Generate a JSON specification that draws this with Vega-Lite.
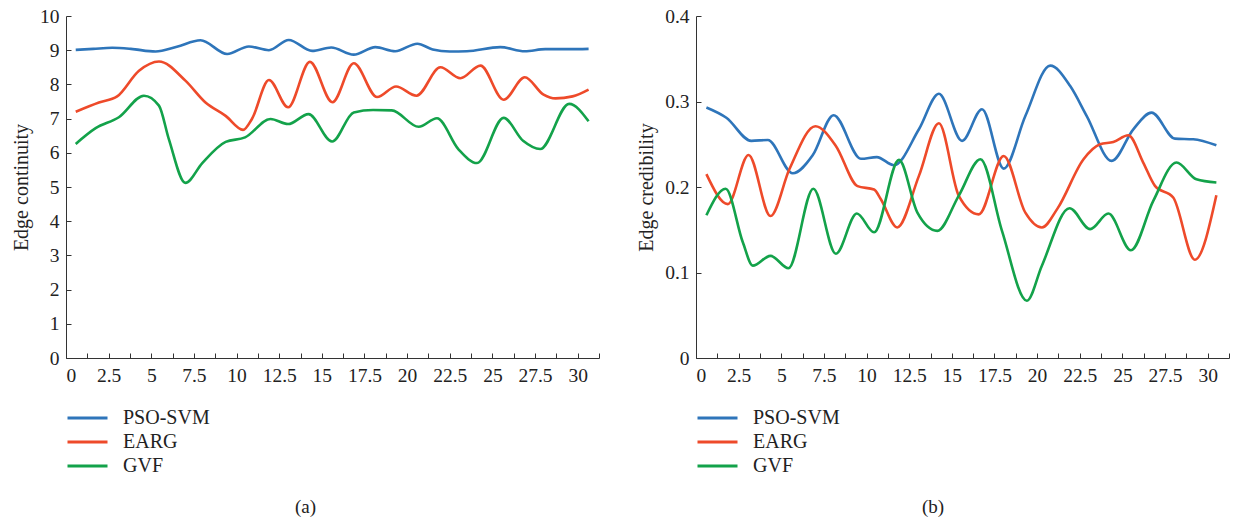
{
  "$schema": "https://vega.github.io/schema/vega-lite/v6.json",
  "padding": {"left": 11, "top": 6, "right": 5, "bottom": 5},
  "spacing": 36,
  "config": {
    "view": {"stroke": null},
    "font": "Liberation Serif",
    "axis": {
      "grid": false,
      "domainColor": "#333333",
      "tickColor": "#333333",
      "tickSize": -5,
      "labelFont": "Liberation Serif",
      "labelFontSize": 19.5,
      "labelColor": "#222222",
      "titleFont": "Liberation Serif",
      "titleFontSize": 20,
      "titleFontWeight": "normal",
      "titleColor": "#222222"
    },
    "axisX": {"labelPadding": 13},
    "axisY": {"labelPadding": 12},
    "legend": {
      "orient": "bottom",
      "direction": "vertical",
      "title": null,
      "symbolType": "stroke",
      "symbolSize": 1600,
      "symbolStrokeWidth": 3,
      "clipHeight": 22,
      "rowPadding": 2,
      "labelFont": "Liberation Serif",
      "labelFontSize": 20,
      "labelColor": "#222222",
      "labelOffset": 14,
      "offset": 22
    },
    "title": {
      "orient": "bottom",
      "anchor": "middle",
      "frame": "bounds",
      "font": "Liberation Serif",
      "fontSize": 19,
      "fontWeight": "normal",
      "color": "#222222",
      "offset": 21
    }
  },
  "resolve": {"legend": {"color": "independent"}},
  "datasets": {
    "a": [
      {"x": 0.57, "y": 9.01, "series": "PSO-SVM"},
      {"x": 1.6, "y": 9.04, "series": "PSO-SVM"},
      {"x": 2.71, "y": 9.07, "series": "PSO-SVM"},
      {"x": 3.8, "y": 9.04, "series": "PSO-SVM"},
      {"x": 5.25, "y": 8.96, "series": "PSO-SVM"},
      {"x": 6.5, "y": 9.1, "series": "PSO-SVM"},
      {"x": 7.89, "y": 9.29, "series": "PSO-SVM"},
      {"x": 9.45, "y": 8.89, "series": "PSO-SVM"},
      {"x": 10.72, "y": 9.11, "series": "PSO-SVM"},
      {"x": 11.9, "y": 9.0, "series": "PSO-SVM"},
      {"x": 13.06, "y": 9.3, "series": "PSO-SVM"},
      {"x": 14.43, "y": 8.98, "series": "PSO-SVM"},
      {"x": 15.55, "y": 9.08, "series": "PSO-SVM"},
      {"x": 16.87, "y": 8.87, "series": "PSO-SVM"},
      {"x": 18.14, "y": 9.09, "series": "PSO-SVM"},
      {"x": 19.3, "y": 8.97, "series": "PSO-SVM"},
      {"x": 20.6, "y": 9.19, "series": "PSO-SVM"},
      {"x": 21.5, "y": 9.02, "series": "PSO-SVM"},
      {"x": 22.5, "y": 8.96, "series": "PSO-SVM"},
      {"x": 23.5, "y": 8.97, "series": "PSO-SVM"},
      {"x": 25.46, "y": 9.09, "series": "PSO-SVM"},
      {"x": 26.9, "y": 8.97, "series": "PSO-SVM"},
      {"x": 28.1, "y": 9.03, "series": "PSO-SVM"},
      {"x": 29.5, "y": 9.03, "series": "PSO-SVM"},
      {"x": 30.64, "y": 9.04, "series": "PSO-SVM"},
      {"x": 0.57, "y": 7.2, "series": "EARG"},
      {"x": 1.93, "y": 7.47, "series": "EARG"},
      {"x": 3.0, "y": 7.65, "series": "EARG"},
      {"x": 4.28, "y": 8.4, "series": "EARG"},
      {"x": 5.45, "y": 8.67, "series": "EARG"},
      {"x": 7.0, "y": 8.11, "series": "EARG"},
      {"x": 8.18, "y": 7.47, "series": "EARG"},
      {"x": 9.36, "y": 7.08, "series": "EARG"},
      {"x": 10.38, "y": 6.67, "series": "EARG"},
      {"x": 10.9, "y": 6.99, "series": "EARG"},
      {"x": 11.9, "y": 8.13, "series": "EARG"},
      {"x": 13.02, "y": 7.33, "series": "EARG"},
      {"x": 14.3, "y": 8.66, "series": "EARG"},
      {"x": 15.62, "y": 7.48, "series": "EARG"},
      {"x": 16.87, "y": 8.62, "series": "EARG"},
      {"x": 18.24, "y": 7.63, "series": "EARG"},
      {"x": 19.35, "y": 7.94, "series": "EARG"},
      {"x": 20.55, "y": 7.67, "series": "EARG"},
      {"x": 21.95, "y": 8.5, "series": "EARG"},
      {"x": 23.12, "y": 8.18, "series": "EARG"},
      {"x": 24.3, "y": 8.55, "series": "EARG"},
      {"x": 25.66, "y": 7.55, "series": "EARG"},
      {"x": 26.9, "y": 8.21, "series": "EARG"},
      {"x": 28.0, "y": 7.7, "series": "EARG"},
      {"x": 28.7, "y": 7.59, "series": "EARG"},
      {"x": 29.7, "y": 7.65, "series": "EARG"},
      {"x": 30.64, "y": 7.85, "series": "EARG"},
      {"x": 0.57, "y": 6.26, "series": "GVF"},
      {"x": 1.74, "y": 6.72, "series": "GVF"},
      {"x": 3.1, "y": 7.04, "series": "GVF"},
      {"x": 4.57, "y": 7.67, "series": "GVF"},
      {"x": 5.45, "y": 7.38, "series": "GVF"},
      {"x": 6.03, "y": 6.4, "series": "GVF"},
      {"x": 7.0, "y": 5.12, "series": "GVF"},
      {"x": 7.99, "y": 5.7, "series": "GVF"},
      {"x": 9.36, "y": 6.32, "series": "GVF"},
      {"x": 10.5, "y": 6.45, "series": "GVF"},
      {"x": 11.99, "y": 6.99, "series": "GVF"},
      {"x": 13.02, "y": 6.84, "series": "GVF"},
      {"x": 14.22, "y": 7.13, "series": "GVF"},
      {"x": 15.6, "y": 6.33, "series": "GVF"},
      {"x": 16.87, "y": 7.18, "series": "GVF"},
      {"x": 18.0, "y": 7.25, "series": "GVF"},
      {"x": 19.1, "y": 7.24, "series": "GVF"},
      {"x": 20.68, "y": 6.76, "series": "GVF"},
      {"x": 21.75, "y": 7.01, "series": "GVF"},
      {"x": 23.0, "y": 6.11, "series": "GVF"},
      {"x": 24.1, "y": 5.7, "series": "GVF"},
      {"x": 25.66, "y": 7.02, "series": "GVF"},
      {"x": 26.8, "y": 6.35, "series": "GVF"},
      {"x": 27.8, "y": 6.11, "series": "GVF"},
      {"x": 29.5, "y": 7.43, "series": "GVF"},
      {"x": 30.64, "y": 6.92, "series": "GVF"}
    ],
    "b": [
      {"x": 0.61, "y": 0.293, "series": "PSO-SVM"},
      {"x": 1.78, "y": 0.281, "series": "PSO-SVM"},
      {"x": 3.24, "y": 0.254, "series": "PSO-SVM"},
      {"x": 4.21, "y": 0.255, "series": "PSO-SVM"},
      {"x": 5.67, "y": 0.216, "series": "PSO-SVM"},
      {"x": 6.84, "y": 0.237, "series": "PSO-SVM"},
      {"x": 8.07, "y": 0.284, "series": "PSO-SVM"},
      {"x": 9.67, "y": 0.233, "series": "PSO-SVM"},
      {"x": 10.6, "y": 0.235, "series": "PSO-SVM"},
      {"x": 11.61, "y": 0.2255, "series": "PSO-SVM"},
      {"x": 13.07, "y": 0.2675, "series": "PSO-SVM"},
      {"x": 14.24, "y": 0.309, "series": "PSO-SVM"},
      {"x": 15.6, "y": 0.254, "series": "PSO-SVM"},
      {"x": 16.77, "y": 0.291, "series": "PSO-SVM"},
      {"x": 18.04, "y": 0.2215, "series": "PSO-SVM"},
      {"x": 19.31, "y": 0.283, "series": "PSO-SVM"},
      {"x": 20.77, "y": 0.342, "series": "PSO-SVM"},
      {"x": 21.94, "y": 0.318, "series": "PSO-SVM"},
      {"x": 22.91, "y": 0.283, "series": "PSO-SVM"},
      {"x": 24.37, "y": 0.2305, "series": "PSO-SVM"},
      {"x": 25.64, "y": 0.2675, "series": "PSO-SVM"},
      {"x": 26.71, "y": 0.287, "series": "PSO-SVM"},
      {"x": 28.08, "y": 0.2566, "series": "PSO-SVM"},
      {"x": 29.15, "y": 0.2558, "series": "PSO-SVM"},
      {"x": 30.51, "y": 0.2488, "series": "PSO-SVM"},
      {"x": 0.61, "y": 0.215, "series": "EARG"},
      {"x": 1.87, "y": 0.18, "series": "EARG"},
      {"x": 3.08, "y": 0.2375, "series": "EARG"},
      {"x": 4.37, "y": 0.166, "series": "EARG"},
      {"x": 5.48, "y": 0.221, "series": "EARG"},
      {"x": 7.0, "y": 0.271, "series": "EARG"},
      {"x": 8.2, "y": 0.248, "series": "EARG"},
      {"x": 9.47, "y": 0.201, "series": "EARG"},
      {"x": 10.44, "y": 0.197, "series": "EARG"},
      {"x": 10.83, "y": 0.186, "series": "EARG"},
      {"x": 11.8, "y": 0.1527, "series": "EARG"},
      {"x": 13.07, "y": 0.213, "series": "EARG"},
      {"x": 14.24, "y": 0.2745, "series": "EARG"},
      {"x": 15.41, "y": 0.1896, "series": "EARG"},
      {"x": 16.58, "y": 0.168, "series": "EARG"},
      {"x": 18.04, "y": 0.2363, "series": "EARG"},
      {"x": 19.31, "y": 0.17, "series": "EARG"},
      {"x": 20.28, "y": 0.1527, "series": "EARG"},
      {"x": 21.2, "y": 0.175, "series": "EARG"},
      {"x": 22.72, "y": 0.2325, "series": "EARG"},
      {"x": 23.69, "y": 0.25, "series": "EARG"},
      {"x": 24.47, "y": 0.2527, "series": "EARG"},
      {"x": 25.35, "y": 0.2605, "series": "EARG"},
      {"x": 26.22, "y": 0.2286, "series": "EARG"},
      {"x": 26.91, "y": 0.2013, "series": "EARG"},
      {"x": 27.98, "y": 0.1877, "series": "EARG"},
      {"x": 29.25, "y": 0.1149, "series": "EARG"},
      {"x": 30.51, "y": 0.1904, "series": "EARG"},
      {"x": 0.61, "y": 0.167, "series": "GVF"},
      {"x": 1.74, "y": 0.198, "series": "GVF"},
      {"x": 2.75, "y": 0.135, "series": "GVF"},
      {"x": 3.33, "y": 0.108, "series": "GVF"},
      {"x": 4.37, "y": 0.1195, "series": "GVF"},
      {"x": 5.42, "y": 0.105, "series": "GVF"},
      {"x": 6.88, "y": 0.198, "series": "GVF"},
      {"x": 8.2, "y": 0.122, "series": "GVF"},
      {"x": 9.43, "y": 0.169, "series": "GVF"},
      {"x": 10.44, "y": 0.147, "series": "GVF"},
      {"x": 11.9, "y": 0.2317, "series": "GVF"},
      {"x": 12.98, "y": 0.17, "series": "GVF"},
      {"x": 14.15, "y": 0.1487, "series": "GVF"},
      {"x": 15.41, "y": 0.19, "series": "GVF"},
      {"x": 16.68, "y": 0.2325, "series": "GVF"},
      {"x": 17.94, "y": 0.1487, "series": "GVF"},
      {"x": 19.4, "y": 0.067, "series": "GVF"},
      {"x": 20.28, "y": 0.108, "series": "GVF"},
      {"x": 21.9, "y": 0.1752, "series": "GVF"},
      {"x": 23.11, "y": 0.1507, "series": "GVF"},
      {"x": 24.18, "y": 0.169, "series": "GVF"},
      {"x": 25.5, "y": 0.126, "series": "GVF"},
      {"x": 26.81, "y": 0.1838, "series": "GVF"},
      {"x": 28.17, "y": 0.2286, "series": "GVF"},
      {"x": 29.34, "y": 0.209, "series": "GVF"},
      {"x": 30.51, "y": 0.2052, "series": "GVF"}
    ]
  },
  "hconcat": [
    {
      "width": 533,
      "height": 342,
      "title": {"text": "(a)"},
      "data": {"name": "a"},
      "mark": {"type": "line", "interpolate": "monotone", "strokeWidth": 2.6},
      "encoding": {
        "x": {
          "field": "x", "type": "quantitative",
          "scale": {"domain": [0, 31.25], "nice": false, "zero": false},
          "axis": {
            "title": null,
            "values": [0, 1.25, 2.5, 3.75, 5, 6.25, 7.5, 8.75, 10, 11.25, 12.5, 13.75, 15, 16.25, 17.5, 18.75, 20, 21.25, 22.5, 23.75, 25, 26.25, 27.5, 28.75, 30, 31.25],
            "labelExpr": "datum.value % 2.5 == 0 ? format(datum.value, '~r') : ''"
          }
        },
        "y": {
          "field": "y", "type": "quantitative",
          "scale": {"domain": [0, 10], "nice": false},
          "axis": {"title": "Edge continuity", "values": [0, 1, 2, 3, 4, 5, 6, 7, 8, 9, 10], "format": "d", "titlePadding": 8}
        },
        "color": {
          "field": "series", "type": "nominal",
          "scale": {"domain": ["PSO-SVM", "EARG", "GVF"], "range": ["#2e75ba", "#ee4a2a", "#13a24a"]}
        }
      }
    },
    {
      "width": 533,
      "height": 342,
      "title": {"text": "(b)"},
      "data": {"name": "b"},
      "mark": {"type": "line", "interpolate": "monotone", "strokeWidth": 2.6},
      "encoding": {
        "x": {
          "field": "x", "type": "quantitative",
          "scale": {"domain": [0, 31.25], "nice": false, "zero": false},
          "axis": {
            "title": null,
            "values": [0, 1.25, 2.5, 3.75, 5, 6.25, 7.5, 8.75, 10, 11.25, 12.5, 13.75, 15, 16.25, 17.5, 18.75, 20, 21.25, 22.5, 23.75, 25, 26.25, 27.5, 28.75, 30, 31.25],
            "labelExpr": "datum.value % 2.5 == 0 ? format(datum.value, '~r') : ''"
          }
        },
        "y": {
          "field": "y", "type": "quantitative",
          "scale": {"domain": [0, 0.4], "nice": false},
          "axis": {"title": "Edge credibility", "values": [0, 0.1, 0.2, 0.3, 0.4], "labelExpr": "format(datum.value, '~r')", "titlePadding": 8}
        },
        "color": {
          "field": "series", "type": "nominal",
          "scale": {"domain": ["PSO-SVM", "EARG", "GVF"], "range": ["#2e75ba", "#ee4a2a", "#13a24a"]}
        }
      }
    }
  ]
}
